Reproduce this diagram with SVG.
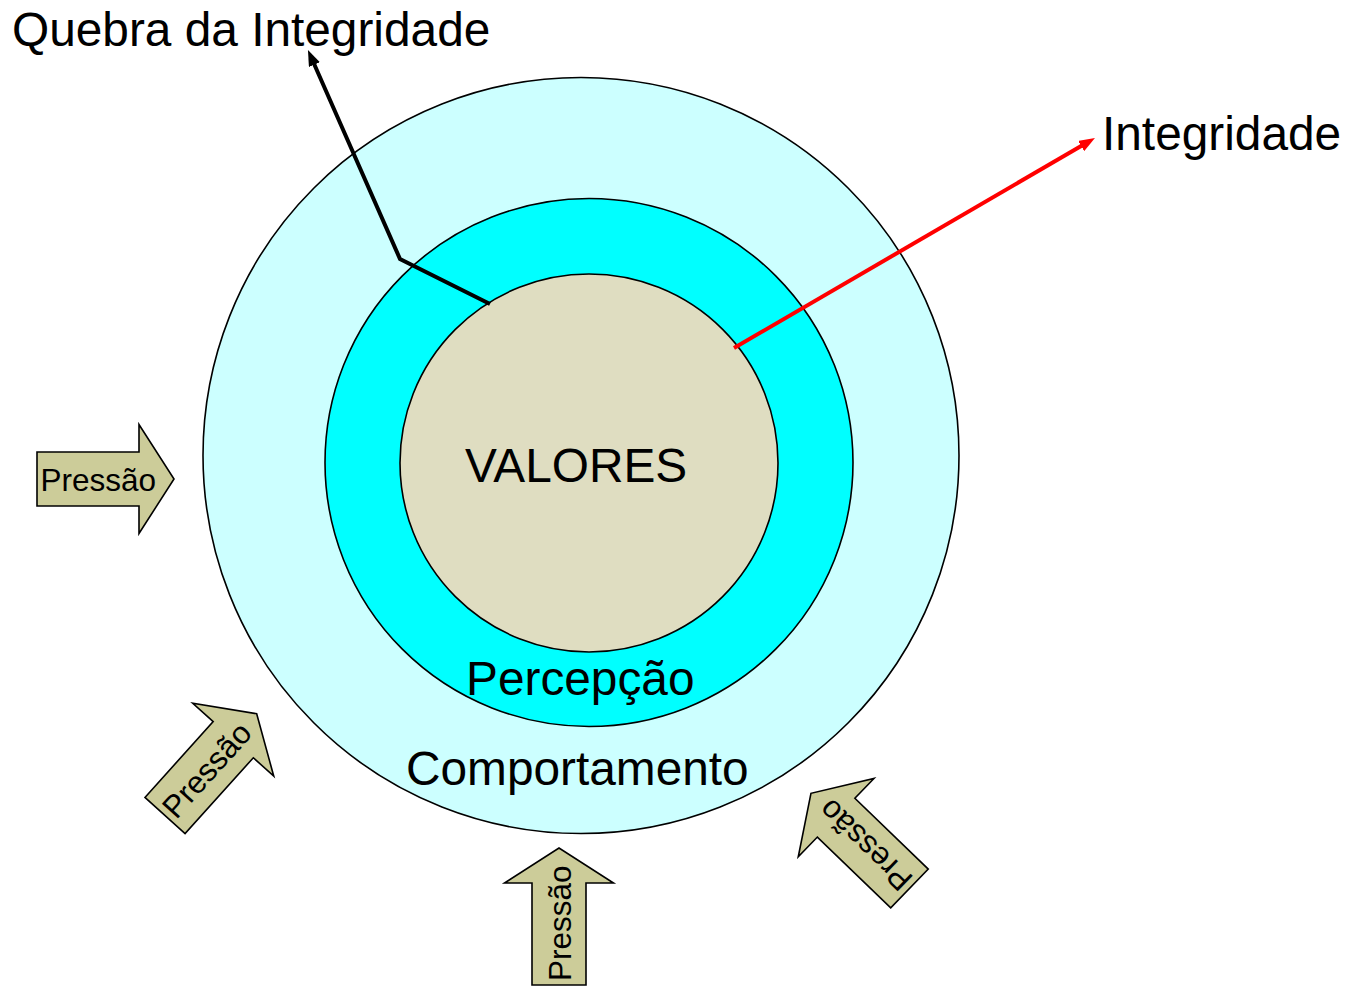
<svg xmlns="http://www.w3.org/2000/svg" width="1351" height="986" viewBox="0 0 1351 986">
<style>
  .ring { stroke: #000; stroke-width: 1.6; }
  .big { font-family: "Liberation Sans", Arial, sans-serif; font-size: 47.8px; fill: #000; }
  .lbl { font-family: "Liberation Sans", Arial, sans-serif; font-size: 31.5px; fill: #000; }
  .parrow { fill: #CCCC99; stroke: #000; stroke-width: 1.6; stroke-linejoin: miter; }
</style>
<defs>
  <path id="arrowShape" d="M0,-27 L102,-27 L102,-54.5 L137,0 L102,54.5 L102,27 L0,27 Z"/>
  <marker id="headBlack" markerUnits="userSpaceOnUse" markerWidth="16" markerHeight="12" refX="4" refY="6" orient="auto">
    <path d="M0,0 L16,6 L0,12 Z" fill="#000"/>
  </marker>
  <marker id="headRed" markerUnits="userSpaceOnUse" markerWidth="16" markerHeight="12" refX="4" refY="6" orient="auto">
    <path d="M0,0 L16,6 L0,12 Z" fill="#FF0000"/>
  </marker>
</defs>
<rect width="1351" height="986" fill="#FFFFFF"/>

<g id="comportamento">
  <circle class="ring" cx="581" cy="455.5" r="378" fill="#CCFFFF"/>
  <text class="big" x="406" y="785">Comportamento</text>
</g>
<g id="percepcao">
  <circle class="ring" cx="589" cy="462.5" r="264" fill="#00FFFF"/>
  <text class="big" x="466" y="695">Percepção</text>
</g>
<g id="valores">
  <circle class="ring" cx="589" cy="463" r="189" fill="#DFDDC1"/>
  <text class="big" x="465" y="482">VALORES</text>
</g>

<g id="connectors" fill="none">
  <polyline points="490,304 400,259 312.8,61" stroke="#000" stroke-width="4" stroke-linejoin="miter" marker-end="url(#headBlack)"/>
  <line x1="734" y1="348" x2="1084.6" y2="144" stroke="#FF0000" stroke-width="4" marker-end="url(#headRed)"/>
</g>

<g id="quebra">
  <text class="big" x="12" y="46">Quebra da Integridade</text>
</g>
<g id="integridade">
  <text class="big" x="1102" y="150">Integridade</text>
</g>

<g id="pressao-left" transform="translate(37,479)">
  <use href="#arrowShape" class="parrow"/>
  <text class="lbl" x="3.5" y="11.5">Pressão</text>
</g>
<g id="pressao-lowerleft" transform="translate(165,815.5) rotate(-48)">
  <use href="#arrowShape" class="parrow"/>
  <text class="lbl" x="4" y="11.5">Pressão</text>
</g>
<g id="pressao-bottom" transform="translate(559,985) rotate(-90)">
  <use href="#arrowShape" class="parrow"/>
  <text class="lbl" x="4" y="11.5">Pressão</text>
</g>
<g id="pressao-lowerright" transform="translate(909.5,888.5) rotate(224)">
  <use href="#arrowShape" class="parrow"/>
  <text class="lbl" x="4" y="11.5">Pressão</text>
</g>
</svg>
